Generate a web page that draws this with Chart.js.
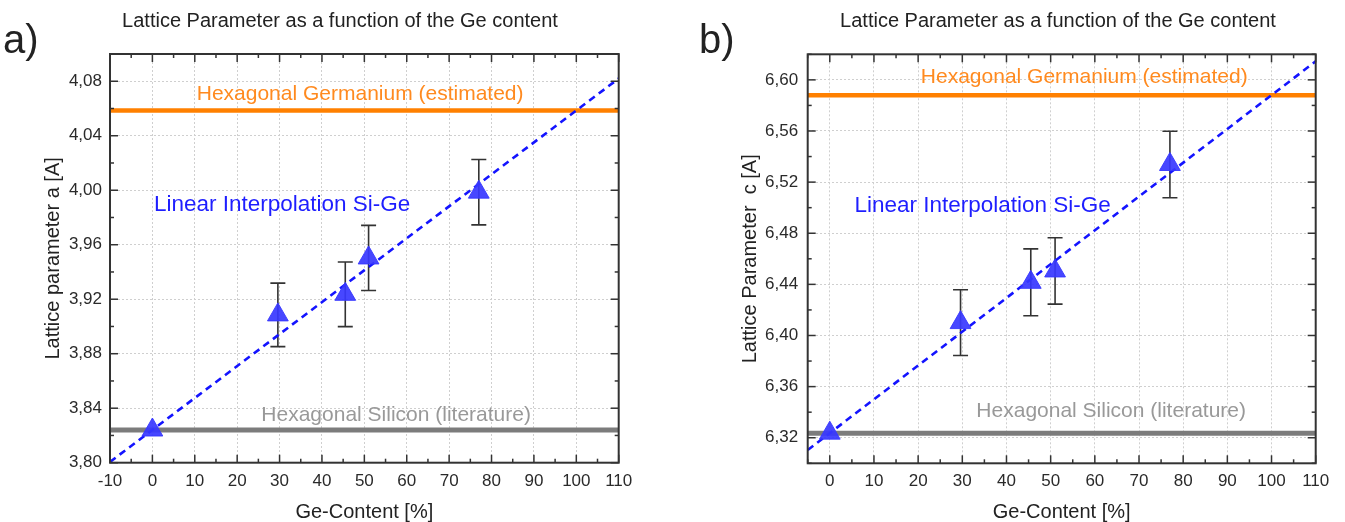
<!DOCTYPE html>
<html>
<head>
<meta charset="utf-8">
<script src="https://cdn.jsdelivr.net/npm/chart.js@4.4.1/dist/chart.umd.min.js"></script>
<style>
  html, body { margin: 0; padding: 0; background: #fff; }
  #wrap { position: relative; width: 1345px; height: 522px; }
  .panel { position: absolute; top: 0; height: 522px; }
</style>
</head>
<body>
<div id="wrap">
  <div class="panel" style="left:0;width:672px"><canvas id="chartA"></canvas></div>
  <div class="panel" style="left:672px;width:673px"><canvas id="chartC"></canvas></div>
</div>
<script>
// Ge content of the measured samples [%]
var geContent = [0, 29.6, 45.5, 51, 77];

// a) lattice parameter a [A]
var latticeA = [3.824, 3.9085, 3.9236, 3.9503, 3.9986];
var errA = [0, 0.0233, 0.0237, 0.0239, 0.024];
var siA = 3.824;      // hexagonal silicon (literature)
var geA = 4.0585;     // hexagonal germanium (estimated)
var interpX_A = [-10, 110];
var interpA = [3.8006, 4.082];
var xTicksA = [-10, 0, 10, 20, 30, 40, 50, 60, 70, 80, 90, 100, 110];
var yTicksA = [3.80, 3.84, 3.88, 3.92, 3.96, 4.00, 4.04, 4.08];

// b) lattice parameter c [A]
var latticeC = [6.3236, 6.4101, 6.4416, 6.4505, 6.5338];
var errC = [0, 0.0257, 0.0262, 0.026, 0.026];
var siC = 6.3236;
var geC = 6.588;
var interpX_C = [-5, 110];
var interpC = [6.3104, 6.6145];
var xTicksC = [0, 10, 20, 30, 40, 50, 60, 70, 80, 90, 100, 110];
var yTicksC = [6.32, 6.36, 6.40, 6.44, 6.48, 6.52, 6.56, 6.60];

var FONT = "'Liberation Sans', Arial, sans-serif";
Chart.defaults.font.family = FONT;

function minorTicks(ticks, min, max) {
  var step = ticks[1] - ticks[0], out = [];
  ticks.forEach(function (t, i) {
    [t - step / 2, t + step / 2].forEach(function (m) {
      if (m >= min - 1e-9 && m <= max + 1e-9 && out.indexOf(+m.toFixed(4)) < 0) out.push(+m.toFixed(4));
    });
  });
  return out;
}

var panelDecor = {
  id: 'panelDecor',
  beforeDatasetsDraw: function (chart, args, o) {
    var xs = chart.scales.x, ys = chart.scales.y, ctx = chart.ctx;
    ctx.save();
    ctx.strokeStyle = '#333';
    ctx.lineWidth = 1.6;
    o.vals.forEach(function (v, i) {
      var e = o.errs[i];
      if (!e) return;
      var px = xs.getPixelForValue(o.xs[i]);
      var t = ys.getPixelForValue(v + e), b = ys.getPixelForValue(v - e);
      ctx.beginPath();
      ctx.moveTo(px, t); ctx.lineTo(px, b);
      ctx.moveTo(px - 7.5, t); ctx.lineTo(px + 7.5, t);
      ctx.moveTo(px - 7.5, b); ctx.lineTo(px + 7.5, b);
      ctx.stroke();
    });
    ctx.restore();
  },
  afterDraw: function (chart, args, o) {
    var a = chart.chartArea, ctx = chart.ctx, xs = chart.scales.x, ys = chart.scales.y;
    ctx.save();
    ctx.strokeStyle = '#333';
    ctx.lineWidth = 1.5;
    function seg(x1, y1, x2, y2) { ctx.beginPath(); ctx.moveTo(x1, y1); ctx.lineTo(x2, y2); ctx.stroke(); }
    function tx(v, len) { var p = xs.getPixelForValue(v); seg(p, a.bottom, p, a.bottom - len); seg(p, a.top, p, a.top + len); }
    function ty(v, len) { var p = ys.getPixelForValue(v); seg(a.left, p, a.left + len, p); seg(a.right, p, a.right - len, p); }
    o.xMajor.forEach(function (v) { tx(v, 8); });
    minorTicks(o.xMajor, xs.min, xs.max).forEach(function (v) { tx(v, 4); });
    o.yMajor.forEach(function (v) { ty(v, 8); });
    minorTicks(o.yMajor, ys.min, ys.max).forEach(function (v) { ty(v, 4); });
    // frame
    ctx.lineWidth = 2;
    ctx.strokeRect(a.left, a.top, a.right - a.left, a.bottom - a.top);
    // annotations
    ctx.textAlign = 'center';
    ctx.textBaseline = 'middle';
    o.notes.forEach(function (n) {
      ctx.font = n.size + 'px ' + FONT;
      ctx.fillStyle = n.color;
      ctx.fillText(n.text, xs.getPixelForValue(n.x), ys.getPixelForValue(n.y));
    });
    // title and panel letter
    ctx.fillStyle = '#222';
    ctx.font = '20px ' + FONT;
    ctx.fillText(o.title, o.titleX, 21);
    ctx.textAlign = 'left';
    ctx.font = '40px ' + FONT;
    ctx.fillText(o.letter, o.letterX, 42);
    ctx.restore();
  }
};

function comma(v) { return v.toFixed(2).replace('.', ','); }

function makePanel(id, p) {
  var pts = geContent.map(function (x, i) { return { x: x, y: p.vals[i] }; });
  new Chart(document.getElementById(id), {
    type: 'scatter',
    data: {
      datasets: [
        { data: pts, pointStyle: 'triangle', pointRadius: 12, pointBackgroundColor: 'rgba(55,55,255,0.92)',
          pointBorderColor: 'rgba(55,55,255,0.92)', pointBorderWidth: 1, showLine: false },
        { data: p.ix.map(function (x, i) { return { x: x, y: p.iy[i] }; }), showLine: true, pointRadius: 0,
          borderColor: '#1414ff', borderWidth: 2.6, borderDash: [7, 5] },
        { data: [{ x: p.xmin, y: p.si }, { x: p.xmax, y: p.si }], showLine: true, pointRadius: 0,
          borderColor: '#7c7c7c', borderWidth: 5 },
        { data: [{ x: p.xmin, y: p.ge }, { x: p.xmax, y: p.ge }], showLine: true, pointRadius: 0,
          borderColor: '#ff8000', borderWidth: 4.5 }
      ]
    },
    options: {
      responsive: true,
      maintainAspectRatio: false,
      animation: false,
      events: [],
      layout: { padding: { top: p.top, right: p.padRight, bottom: 0, left: 0 } },
      plugins: {
        legend: { display: false },
        tooltip: { enabled: false },
        panelDecor: p.decor
      },
      scales: {
        x: {
          type: 'linear', min: p.xmin, max: p.xmax,
          afterBuildTicks: function (s) { s.ticks = p.xt.map(function (v) { return { value: v }; }); },
          afterFit: function (s) { s.height = p.xh; },
          grid: { color: '#cfcfcf', lineWidth: 1, drawTicks: false },
          border: { display: false, dash: [2, 2] },
          ticks: { padding: 8, color: '#2a2a2a', font: { size: 17 } },
          title: { display: true, text: 'Ge-Content [%]', color: '#222', font: { size: 20, lineHeight: 1 }, padding: 0 }
        },
        y: {
          type: 'linear', min: p.ymin, max: p.ymax,
          afterBuildTicks: function (s) { s.ticks = p.yt.map(function (v) { return { value: v }; }); },
          afterFit: function (s) { s.width = p.yw; },
          grid: { color: '#cfcfcf', lineWidth: 1, drawTicks: false },
          border: { display: false, dash: [2, 2] },
          ticks: { padding: p.ytPad, color: '#2a2a2a', font: { size: 17 }, callback: comma },
          title: { display: true, text: p.ytitle, color: '#222', font: { size: 20, lineHeight: 1.2 }, padding: { top: p.ytitlePad, bottom: 0 } }
        }
      }
    },
    plugins: [panelDecor]
  });
}

makePanel('chartA', {
  vals: latticeA, ix: interpX_A, iy: interpA, si: siA, ge: geA,
  xmin: -10, xmax: 110, ymin: 3.80, ymax: 4.10, xt: xTicksA, yt: yTicksA,
  top: 54, padRight: 53.3, xh: 59.3, yw: 110, ytPad: 8, ytitlePad: 41,
  ytitle: 'Lattice parameter a [A]',
  decor: {
    xs: geContent, vals: latticeA, errs: errA, xMajor: xTicksA, yMajor: yTicksA,
    title: 'Lattice Parameter as a function of the Ge content', titleX: 340, letter: 'a)', letterX: 3,
    notes: [
      { text: 'Hexagonal Germanium (estimated)', x: 49.0, y: 4.0702, size: 21, color: '#ff8a1f' },
      { text: 'Linear Interpolation Si-Ge', x: 30.6, y: 3.9894, size: 22.5, color: '#1e1eff' },
      { text: 'Hexagonal Silicon (literature)', x: 57.5, y: 3.8351, size: 21, color: '#999999' }
    ]
  }
});

makePanel('chartC', {
  vals: latticeC, ix: interpX_C, iy: interpC, si: siC, ge: geC,
  xmin: -5, xmax: 110, ymin: 6.30, ymax: 6.62, xt: xTicksC, yt: yTicksC,
  top: 54.3, padRight: 29.3, xh: 58.7, yw: 135.7, ytPad: 9.5, ytitlePad: 66,
  ytitle: 'Lattice Parameter  c [A]',
  decor: {
    xs: geContent, vals: latticeC, errs: errC, xMajor: xTicksC, yMajor: yTicksC,
    title: 'Lattice Parameter as a function of the Ge content', titleX: 386, letter: 'b)', letterX: 27,
    notes: [
      { text: 'Hexagonal Germanium (estimated)', x: 57.6, y: 6.6023, size: 21, color: '#ff8a1f' },
      { text: 'Linear Interpolation Si-Ge', x: 34.6, y: 6.5016, size: 22.5, color: '#1e1eff' },
      { text: 'Hexagonal Silicon (literature)', x: 63.7, y: 6.3411, size: 21, color: '#999999' }
    ]
  }
});
</script>
</body>
</html>
